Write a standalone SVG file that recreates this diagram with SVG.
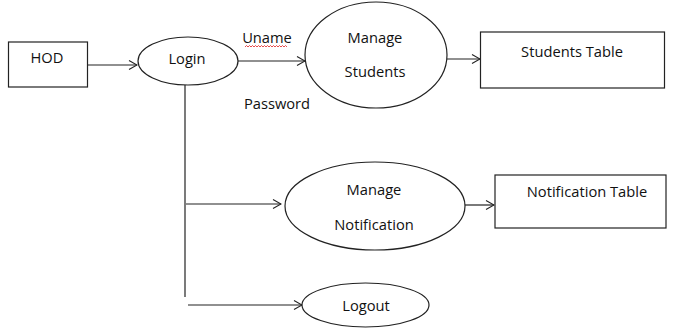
<svg xmlns="http://www.w3.org/2000/svg" width="675" height="330" viewBox="0 0 675 330">
<defs>
<marker id="arr" markerWidth="10" markerHeight="10" refX="9" refY="5" orient="auto" markerUnits="userSpaceOnUse">
<path d="M1,0.5 L9,5 L1,9.5" fill="none" stroke="#222" stroke-width="1.1"/>
</marker>
<style>
.s{fill:#fff;stroke:#222;stroke-width:1.2}
.t{font-family:"Open Sans","Liberation Sans",Arial,sans-serif;font-size:14.7px;fill:#111;text-anchor:middle}
.c{fill:none;stroke:#222;stroke-width:1.2}
</style>
</defs>
<rect width="675" height="330" fill="#fff"/>
<g id="connectors">
<line class="c" x1="88" y1="65" x2="137" y2="65" marker-end="url(#arr)"/>
<line class="c" x1="238" y1="61" x2="305" y2="61" marker-end="url(#arr)"/>
<line class="c" x1="447" y1="59" x2="480" y2="59" marker-end="url(#arr)"/>
<line class="c" x1="185" y1="85" x2="185" y2="297"/>
<line class="c" x1="186" y1="204" x2="281" y2="204" marker-end="url(#arr)"/>
<line class="c" x1="465" y1="205" x2="494" y2="205" marker-end="url(#arr)"/>
<line class="c" x1="188" y1="305" x2="302" y2="305" marker-end="url(#arr)"/>
<text class="t" x="267" y="43">Uname</text>
<path d="M245,47 l1.5,-1.5 l1.5,1.5 l1.5,-1.5 l1.5,1.5 l1.5,-1.5 l1.5,1.5 l1.5,-1.5 l1.5,1.5 l1.5,-1.5 l1.5,1.5 l1.5,-1.5 l1.5,1.5 l1.5,-1.5 l1.5,1.5 l1.5,-1.5 l1.5,1.5 l1.5,-1.5 l1.5,1.5 l1.5,-1.5 l1.5,1.5 l1.5,-1.5 l1.5,1.5 l1.5,-1.5 l1.5,1.5 l1.5,-1.5 l1.5,1.5 l1.5,-1.5 l1.5,1.5" fill="none" stroke="#e02020" stroke-width="0.8"/>
<text class="t" x="277" y="109">Password</text>
</g>
<g id="hod">
<rect class="s" x="8.5" y="42" width="79" height="45"/>
<text class="t" x="47" y="63">HOD</text>
</g>
<g id="login">
<ellipse class="s" cx="188" cy="61" rx="50" ry="24"/>
<text class="t" x="187" y="64">Login</text>
</g>
<g id="manage-students">
<ellipse class="s" cx="376" cy="55" rx="71" ry="53"/>
<text class="t" x="375" y="43">Manage</text>
<text class="t" x="375" y="77">Students</text>
</g>
<g id="students-table">
<rect class="s" x="480.5" y="32" width="184" height="56"/>
<text class="t" x="572" y="57">Students Table</text>
</g>
<g id="manage-notification">
<ellipse class="s" cx="375" cy="206" rx="90" ry="44"/>
<text class="t" x="374" y="195">Manage</text>
<text class="t" x="374" y="230">Notification</text>
</g>
<g id="notification-table">
<rect class="s" x="495" y="175" width="171" height="53"/>
<text class="t" x="587" y="197">Notification Table</text>
</g>
<g id="logout">
<ellipse class="s" cx="365.5" cy="305" rx="63.5" ry="22"/>
<text class="t" x="366" y="311">Logout</text>
</g>
</svg>
